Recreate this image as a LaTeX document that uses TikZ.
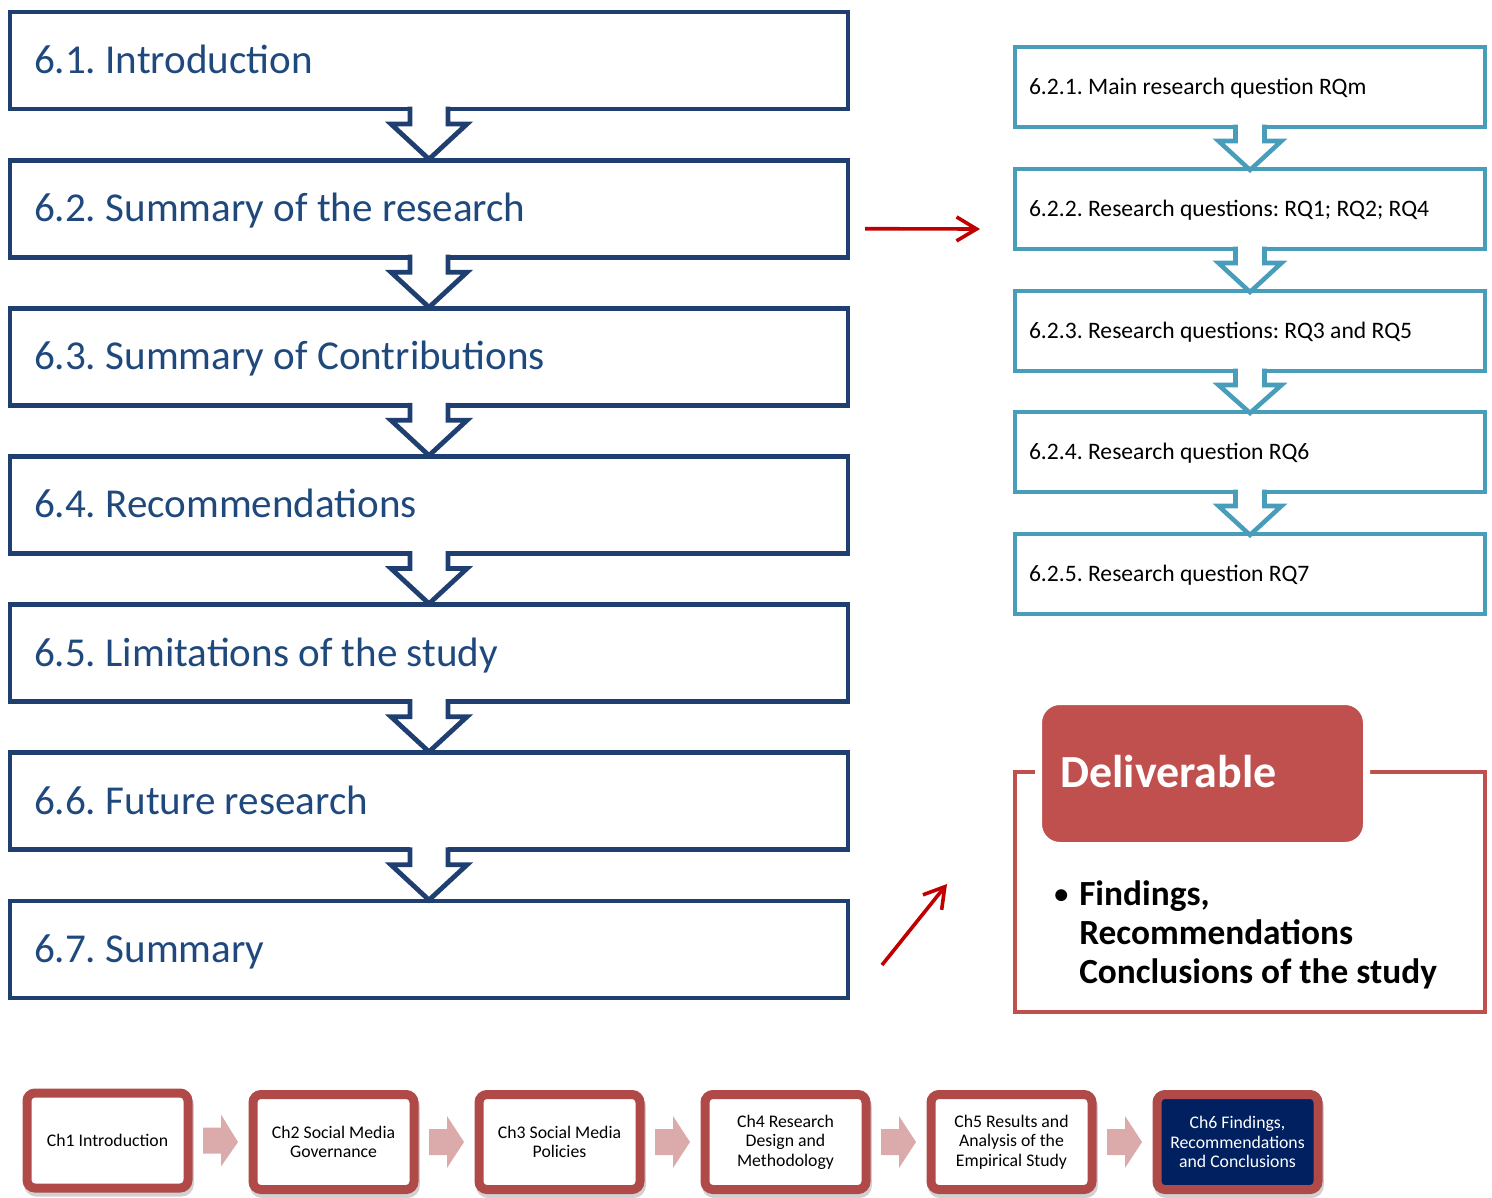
\documentclass[tikz,border=0pt]{standalone}
\usepackage{fontspec}
\setmainfont{Carlito}
\usetikzlibrary{arrows.meta,calc,shadows}
\frenchspacing

\definecolor{navy}{RGB}{31,63,112}
\definecolor{navytext}{RGB}{31,73,125}
\definecolor{tealline}{RGB}{72,158,186}
\definecolor{arrowred}{RGB}{192,0,0}
\definecolor{accred}{RGB}{192,80,77}
\definecolor{chapred}{RGB}{176,74,72}
\definecolor{chapnavy}{RGB}{0,32,96}
\definecolor{pinkarrow}{RGB}{219,170,170}

\tikzset{
  mainbox/.style={draw=navy, line width=3.6pt, outer sep=0pt,
    minimum width=628.5pt, minimum height=72.75pt,
    inner xsep=18pt, inner ysep=0pt, text width=592.5pt, align=flush left,
    text=navytext, font=\fontsize{30.8}{36}\selectfont,
    text height=19.4pt, text depth=0pt},
  subbox/.style={draw=tealline, line width=3.4pt, outer sep=0pt,
    minimum width=352.5pt, minimum height=60pt,
    inner xsep=10.5pt, inner ysep=0pt, text width=331.5pt, align=flush left,
    text=black, font=\fontsize{17.7}{21}\selectfont,
    text height=11.2pt, text depth=0pt},
  chapbox/.style={draw=chapred, line width=6.75pt, rounded corners=6pt,
    outer sep=0pt, minimum width=120.75pt, minimum height=71.25pt,
    inner sep=0pt, align=flush center, fill=white, text=black,
    font=\fontsize{13.3}{14.6}\selectfont,
    drop shadow={shadow xshift=1pt, shadow yshift=-3pt, opacity=0.3,
      fill=black!60, draw=black!60, line width=6.75pt}},
  redarrow/.style={draw=arrowred, line width=2.7pt,
    -{Straight Barb[length=15pt,width=18pt]}},
}

\begin{document}
\begin{tikzpicture}[x=0.75pt,y=-0.75pt]
\useasboundingbox (0,0) rectangle (1492,1197);

% ---- chapter 6 sections ----
\node[mainbox] (b1) at (429,60.5)  {6.1. Introduction};
\node[mainbox] (b2) at (429,208.7) {6.2. Summary of the research};
\node[mainbox] (b3) at (429,356.8) {6.3. Summary of Contributions};
\node[mainbox] (b4) at (429,505.0) {6.4. Recommendations};
\node[mainbox] (b5) at (429,653.2) {6.5. Limitations of the study};
\node[mainbox] (b6) at (429,801.3) {6.6. Future research};
\node[mainbox] (b7) at (429,949.5) {6.7. Summary};

\foreach \i/\j in {1/2,2/3,3/4,4/5,5/6,6/7}{
  \fill[white] ($(b\i.south)+(-19,-3)$) -- ($(b\i.south)+(-19,15)$)
    -- ($(b\i.south)+(-38,15)$) -- ($(b\j.north)+(0,-1)$)
    -- ($(b\i.south)+(38,15)$) -- ($(b\i.south)+(19,15)$)
    -- ($(b\i.south)+(19,-3)$) -- cycle;
  \draw[navy, line width=3.6pt, miter limit=10]
    ($(b\i.south)+(-19,-2.5)$) -- ($(b\i.south)+(-19,15)$)
    -- ($(b\i.south)+(-38,15)$) -- ($(b\j.north)+(0,-1)$)
    -- ($(b\i.south)+(38,15)$) -- ($(b\i.south)+(19,15)$)
    -- ($(b\i.south)+(19,-2.5)$);
}

% ---- subsections of 6.2 ----
\node[subbox] (t1) at (1250,87)  {6.2.1. Main research question RQm};
\node[subbox] (t2) at (1250,209) {6.2.2. Research questions: RQ1; RQ2; RQ4};
\node[subbox] (t3) at (1250,331) {6.2.3. Research questions: RQ3 and RQ5};
\node[subbox] (t4) at (1250,452) {6.2.4. Research question RQ6};
\node[subbox] (t5) at (1250,574) {6.2.5. Research question RQ7};

\foreach \i/\j in {1/2,2/3,3/4,4/5}{
  \fill[white] ($(t\i.south)+(-14.5,-3)$) -- ($(t\i.south)+(-14.5,14)$)
    -- ($(t\i.south)+(-31.5,14)$) -- ($(t\j.north)+(0,1)$)
    -- ($(t\i.south)+(31.5,14)$) -- ($(t\i.south)+(14.5,14)$)
    -- ($(t\i.south)+(14.5,-3)$) -- cycle;
  \draw[tealline, line width=3.4pt, miter limit=10]
    ($(t\i.south)+(-14.5,-2.3)$) -- ($(t\i.south)+(-14.5,14)$)
    -- ($(t\i.south)+(-31.5,14)$) -- ($(t\j.north)+(0,1)$)
    -- ($(t\i.south)+(31.5,14)$) -- ($(t\i.south)+(14.5,14)$)
    -- ($(t\i.south)+(14.5,-2.3)$);
}

% ---- deliverable ----
\node[draw=accred, line width=3.4pt, outer sep=0pt,
  minimum width=352.5pt, minimum height=180pt] (dl) at (1250,892) {};
\node[draw=white, fill=accred, line width=5.25pt, rounded corners=16pt,
  outer sep=0pt, minimum width=246pt, minimum height=108pt] (dh) at (1202.5,773.5) {};
\node[anchor=base west, inner sep=0pt, text=white,
  font=\fontsize{34.5}{40}\selectfont\bfseries] (dt) at (1060,787) {Deliverable};
\begin{scope}[every node/.style={anchor=base west, inner sep=0pt,
    font=\fontsize{26.5}{30}\selectfont\bfseries}]
  \node[font=\fontsize{21}{24}\selectfont\bfseries] (db) at (1054,903) {\textbullet};
  \node (d1) at (1079,905) {Findings,};
  \node (d2) at (1079,944) {Recommendations};
  \node (d3) at (1079,983) {Conclusions of the study};
\end{scope}

% ---- red links ----
\coordinate (h1) at ($(b2.east)+(17,20)$);
\coordinate (h2) at ($(t2.west)+(-35,20)$);
\draw[redarrow] (h1) -- (h2);
\coordinate (g1) at ($(b7.east)+(34,15.5)$);
\coordinate (g2) at ($(dl.west)+(-68,-8)$);
\draw[redarrow] (g1) -- (g2);

% ---- chapter chain ----
\node[chapbox] (c1) at (107.5,1140.5) {Ch1 Introduction};
\node[chapbox] (c2) at (333.5,1142) {Ch2 Social Media\\Governance};
\node[chapbox] (c3) at (559.5,1142) {Ch3 Social Media\\Policies};
\node[chapbox] (c4) at (785.5,1142) {Ch4 Research\\Design and\\Methodology};
\node[chapbox] (c5) at (1011.5,1142) {Ch5 Results and\\Analysis of the\\Empirical Study};
\node[chapbox, fill=chapnavy, text=white] (c6) at (1237.5,1142)
  {Ch6 Findings,\\Recommendations\\and Conclusions};

\foreach \i/\j in {1/2,2/3,3/4,4/5,5/6}{
  \fill[pinkarrow] ($(c\i.east)+(15,-13)$) -- ($(c\i.east)+(33,-13)$)
    -- ($(c\i.east)+(33,-26)$) -- ($(c\j.west)+(-15,0)$)
    -- ($(c\i.east)+(33,26)$) -- ($(c\i.east)+(33,13)$)
    -- ($(c\i.east)+(15,13)$) -- cycle;
}
\end{tikzpicture}
\end{document}
